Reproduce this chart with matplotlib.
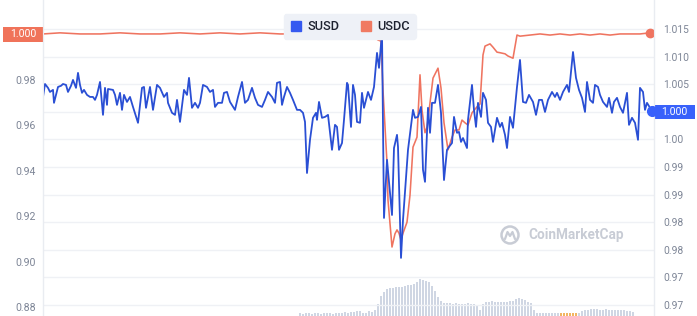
import numpy as np
import matplotlib
matplotlib.use("Agg")
import matplotlib.pyplot as plt
from matplotlib.lines import Line2D
from matplotlib.patches import Rectangle, Ellipse

# ---------------- data (time in chart steps) ----------------
susd_t = [0, 2, 5, 7, 10, 11, 13, 15, 18, 20, 23, 25, 28, 30, 33, 35, 37, 39, 41, 44, 47, 50, 52, 54, 57,
          60, 62, 64, 65, 70, 72, 74, 77, 79, 81, 84, 87, 90, 95, 99, 101, 103, 107, 110, 114, 117, 121,
          124, 125, 129, 132, 134, 137, 141, 144, 146, 149, 152, 155,
          157, 160, 164, 167, 170, 172, 175, 179, 181, 184, 187, 192, 195, 199, 202, 205, 209, 212, 215,
          219, 222, 225, 229, 232, 234, 237, 239, 241, 244, 247, 250, 254, 257, 260, 262, 264, 267, 270,
          273, 274, 276, 279, 282, 285, 289, 292, 294, 296, 299, 301, 304, 305, 308, 310, 312, 314, 317,
          319, 321, 325, 328, 331, 334, 336, 339, 341, 344, 349, 351, 354, 355, 358, 360, 365, 370, 372,
          375, 378, 380, 382, 385, 387, 389, 392, 395, 398, 401, 404, 406, 409, 411, 414, 416, 418, 420,
          424, 425, 429, 431, 433, 435, 438, 440, 443, 445, 448, 450, 454, 457, 459, 462, 464, 467, 470,
          474, 477, 480, 483, 486, 490, 493, 496, 499, 502, 505, 509, 512, 514, 517, 520, 524, 526, 530,
          533, 536, 539, 542, 544, 547, 550, 552, 555, 557, 560, 564, 566, 569, 571, 574, 577, 580, 584,
          586, 589, 592, 595, 597, 600, 602, 604, 607, 609]
susd = [0.9725, 0.9782, 0.9765, 0.9747, 0.9756, 0.9699, 0.9734, 0.9769, 0.9774, 0.9782, 0.9778, 0.9747,
        0.9774, 0.9800, 0.9765, 0.9831, 0.9778, 0.9743, 0.9756, 0.9734, 0.9725, 0.9725, 0.9712, 0.9734,
        0.9791, 0.9646, 0.9765, 0.9690, 0.9760, 0.9756, 0.9734, 0.9690, 0.9743, 0.9668, 0.9734, 0.9703,
        0.9725, 0.9681, 0.9611, 0.9765, 0.9769, 0.9677, 0.9769, 0.9668, 0.9778, 0.9765, 0.9725, 0.9743,
        0.9699, 0.9655, 0.9646, 0.9712, 0.9615, 0.9756, 0.9734, 0.9809, 0.9677, 0.9699, 0.9677,
        0.9699, 0.9778, 0.9769, 0.9747, 0.9756, 0.9681, 0.9699, 0.9699, 0.9743, 0.9747, 0.9703, 0.9668,
        0.9725, 0.9791, 0.9699, 0.9712, 0.9765, 0.9721, 0.9690, 0.9681, 0.9712, 0.9747, 0.9725, 0.9699,
        0.9787, 0.9791, 0.9690, 0.9725, 0.9769, 0.9743, 0.9712, 0.9668, 0.9668, 0.9655, 0.9615, 0.9390,
        0.9536, 0.9633, 0.9655, 0.9624, 0.9703, 0.9633, 0.9637, 0.9646, 0.9492, 0.9602, 0.9593, 0.9492,
        0.9522, 0.9624, 0.9787, 0.9778, 0.9593, 0.9778, 0.9734, 0.9615, 0.9611, 0.9743, 0.9677, 0.9747,
        0.9712, 0.9769, 0.9919, 0.9853, 1.0007, 0.9192, 0.9448, 0.9205, 0.9500, 0.9558, 0.9505, 0.9016,
        0.9183, 0.9492, 0.9668, 0.9633, 0.9637, 0.9681, 0.9404, 0.9351, 0.9677, 0.9567, 0.9699, 0.9699,
        0.9778, 0.9655, 0.9359, 0.9492, 0.9505, 0.9522, 0.9637, 0.9567, 0.9571, 0.9527, 0.9544, 0.9500,
        0.9624, 0.9778, 0.9668, 0.9593, 0.9699, 0.9637, 0.9743, 0.9712, 0.9611, 0.9593, 0.9527, 0.9633,
        0.9593, 0.9611, 0.9558, 0.9500, 0.9637, 0.9589, 0.9769, 0.9888, 0.9703, 0.9699, 0.9734, 0.9703,
        0.9646, 0.9712, 0.9712, 0.9659, 0.9712, 0.9747, 0.9725, 0.9743, 0.9712, 0.9747, 0.9778, 0.9747,
        0.9923, 0.9809, 0.9756, 0.9721, 0.9659, 0.9791, 0.9712, 0.9699, 0.9778, 0.9769, 0.9734, 0.9703,
        0.9681, 0.9721, 0.9655, 0.9703, 0.9721, 0.9681, 0.9655, 0.9743, 0.9602, 0.9633, 0.9611, 0.9536,
        0.9765, 0.9747, 0.9668, 0.9699, 0.9677, 0.9663]

usdc_t = [0, 17, 37, 57, 77, 97, 117, 137, 157, 177, 197, 217, 237, 257, 262, 265, 277, 297, 312, 325,
          329, 333, 335, 338, 340, 344, 345, 349, 352, 354, 356, 358, 360, 364, 367, 370, 374, 377, 379,
          382, 384, 387, 390, 395, 398, 401, 405, 409, 412, 416, 419, 422, 425, 429, 434, 437, 440, 442,
          447, 450, 454, 457, 462, 465, 470, 474, 477, 487, 497, 507, 517, 527, 537, 547, 557, 567, 577,
          587, 597, 607]
usdc = [1.0141, 1.0143, 1.0141, 1.0141, 1.0143, 1.0141, 1.0141, 1.0143, 1.0141, 1.0143, 1.0141, 1.0143,
        1.0141, 1.0141, 1.0139, 1.0141, 1.0143, 1.0141, 1.0141, 1.0143, 1.0141, 1.0134, 1.0130, 1.0128,
        1.0039, 0.9907, 0.9840, 0.9755, 0.9779, 0.9786, 0.9780, 0.9768, 0.9780, 0.9800, 0.9849, 0.9936,
        0.9954, 1.0067, 1.0003, 0.9962, 0.9972, 1.0016, 1.0061, 1.0079, 1.0043, 0.9980, 0.9931, 0.9954,
        0.9967, 0.9967, 0.9985, 0.9980, 0.9976, 0.9998, 1.0009, 1.0014, 1.0103, 1.0119, 1.0123, 1.0117,
        1.0108, 1.0107, 1.0105, 1.0101, 1.0097, 1.0139, 1.0137, 1.0139, 1.0141, 1.0139, 1.0141, 1.0139,
        1.0141, 1.0139, 1.0141, 1.0139, 1.0141, 1.0141, 1.0141, 1.0143]

volume = [3, 2, 3, 3, 2, 3, 3, 2, 3, 3, 3, 2, 3, 3, 3, 4, 3, 4, 4, 5, 5, 3, 3, 5, 4, 6,
          12, 20, 24, 27, 28, 28, 29, 29, 29, 30, 31, 31, 32, 34, 37, 36, 35, 34, 30, 25, 19,
          15, 13, 13, 13, 12, 13, 12, 12, 12, 13, 12, 12, 10, 6, 12, 14, 14, 15, 14, 14, 14, 14,
          14, 15, 15, 17, 18, 17, 16, 14, 13, 6, 3, 3, 3, 3, 3, 3, 3, 3, 3, 3, 3, 3, 3, 3, 3,
          5, 6, 6, 7, 7, 7, 6, 6, 7, 6, 6, 6, 6, 6, 6, 5, 5, 4]
volume_t0 = 257
volume_step = 3
volume_orange_range = (517, 534)

left_ticks = [0.88, 0.90, 0.92, 0.94, 0.96, 0.98]
right_ticks = [0.965, 0.970, 0.975, 0.980, 0.985, 0.990, 0.995, 1.000, 1.005, 1.010, 1.015]
right_labels = ["0.97", "0.97", "0.98", "0.98", "0.99", "0.99", "1.00", "", "1.005", "1.010", "1.015"]
series_names = ["SUSD", "USDC"]
usdc_badge = "1.000"
susd_badge = "1.000"

# ---------------- style ----------------
BLUE = "#2a4fd4"
ORANGE = "#ef7460"
GRID = "#eff1f5"
TICK = "#7d8596"
FONT = ["Roboto", "DejaVu Sans"]
plt.rcParams["font.family"] = FONT

W, H = 697, 316
fig = plt.figure(figsize=(W / 100, H / 100), dpi=100)
fig.patch.set_facecolor("white")
rect = [43 / W, 0, 611 / W, 1]

ax = fig.add_axes(rect)
axr = ax.twinx()
axv = ax.twinx()

axv.set_zorder(0)
axr.set_zorder(1)
ax.set_zorder(2)
ax.patch.set_visible(False)
axr.patch.set_visible(False)
axv.patch.set_facecolor("white")

ax.set_xlim(0, 611)
ax.set_ylim(0.876, 1.0152)
axr.set_ylim(0.963, 1.02025)
axv.set_ylim(0, 320)

# volume bars
vt = np.arange(len(volume)) * volume_step + volume_t0
vcol = ["#f2b561" if volume_orange_range[0] <= t <= volume_orange_range[1] else "#cfd6e3" for t in vt]
axv.bar(vt, volume, width=1.4, color=vcol, linewidth=0)
axv.set_yticks([])

# grid on right-axis ticks
axr.set_yticks(right_ticks)
axr.set_yticklabels(right_labels)
axr.grid(True, axis="y", color=GRID, linewidth=1.0)
axr.set_axisbelow(True)
axr.tick_params(axis="y", length=0, pad=6.5, labelsize=7.4, labelcolor=TICK)

ax.set_yticks(left_ticks)
ax.set_yticklabels([f"{v:.2f}" for v in left_ticks])
ax.tick_params(axis="y", length=0, pad=5, labelsize=7.6, labelcolor=TICK)
ax.set_xticks([])

for a in (ax, axr, axv):
    for s in ("top", "bottom"):
        a.spines[s].set_visible(False)
    for s in ("left", "right"):
        a.spines[s].set_color("#e9ecf1")
        a.spines[s].set_linewidth(0.8)

# lines
axr.plot(usdc_t, usdc, color=ORANGE, linewidth=1.15, solid_joinstyle="round")
axr.plot([usdc_t[-1]], [usdc[-1]], "o", color=ORANGE, markersize=6, zorder=5)
ax.plot(susd_t, susd, color=BLUE, linewidth=1.3, solid_joinstyle="round")
ax.plot([susd_t[-1]], [susd[-1]], "o", color="#3861fb", markersize=7, zorder=5, clip_on=False)

# badges
ax_l = fig.add_axes([3 / W, (H - 41.5) / H, 40 / W, 15 / H])
ax_l.set_axis_off()
ax_l.add_patch(Rectangle((0, 0), 1, 1, facecolor="#f0735a", edgecolor="none", transform=ax_l.transAxes))
ax_l.text(0.5, 0.47, usdc_badge, color="white", fontsize=7.6, ha="center", va="center", transform=ax_l.transAxes)

ax_r = fig.add_axes([654 / W, (H - 118.5) / H, 41 / W, 14 / H])
ax_r.set_axis_off()
ax_r.add_patch(Rectangle((0, 0), 1, 1, facecolor="#3861fb", edgecolor="none", transform=ax_r.transAxes))
ax_r.text(0.5, 0.47, susd_badge, color="white", fontsize=7.6, ha="center", va="center", transform=ax_r.transAxes)

# legend
handles = [Line2D([], [], marker="s", linestyle="none", markersize=7.5, markerfacecolor=c, markeredgecolor=c)
           for c in ("#3559f0", "#f07a62")]
leg = ax.legend(handles, series_names, loc="upper center", bbox_to_anchor=(0.502, 0.975), ncol=2,
                frameon=True, fontsize=9.2, handletextpad=0.4, columnspacing=1.6, borderpad=0.45,
                handlelength=1.0, fancybox=True)
leg.get_frame().set_facecolor("#eef1f7")
leg.get_frame().set_edgecolor("#eef1f7")
leg.get_frame().set_alpha(1)
for txt in leg.get_texts():
    txt.set_color("#1e2230")
    txt.set_fontweight("medium")

# watermark
wm_color = "#c8ccd5"
fig.text(528 / W, 1 - 235 / H, "CoinMarketCap", color=wm_color, fontsize=9.8, fontweight="bold",
         ha="left", va="center", family=FONT, zorder=10)
cx, cy = 510, 235
fig.add_artist(Ellipse((cx / W, 1 - cy / H), 17 / W, 17 / H, transform=fig.transFigure, fill=False,
                       edgecolor=wm_color, linewidth=1.8))
wave_x = [cx - 5, cx - 2.5, cx, cx + 2.5, cx + 5]
wave_y = [cy + 4, cy - 3, cy + 1, cy - 3, cy + 4]
fig.add_artist(Line2D([x / W for x in wave_x], [1 - y / H for y in wave_y], transform=fig.transFigure,
                      color=wm_color, linewidth=1.6, solid_joinstyle="round", solid_capstyle="round"))

fig.savefig("out.png", dpi=100)
